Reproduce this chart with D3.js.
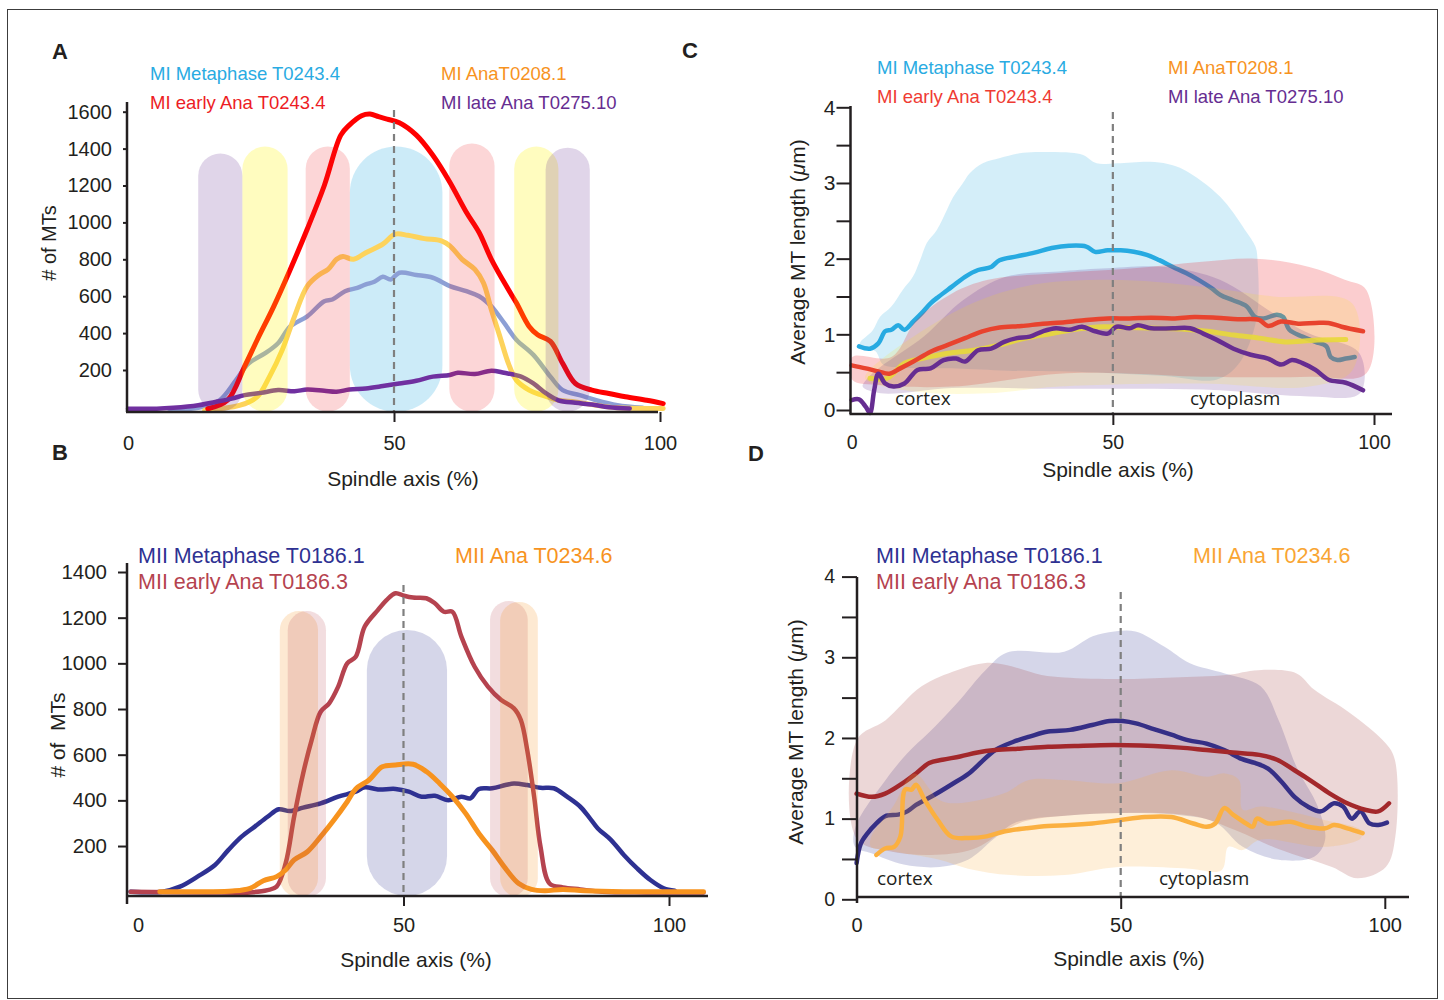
<!DOCTYPE html>
<html>
<head>
<meta charset="utf-8">
<script src="https://cdnjs.cloudflare.com/ajax/libs/d3/7.8.5/d3.min.js"></script>
<style>
  body { margin: 0; background: #fff; }
</style>
</head>
<body>
<svg id="fig" width="1444" height="1000"></svg>
<script>
// ---------------- Panel A : # of MTs along the spindle, meiosis I ----------------
const aMeta  = [[7.7,-10],[13.2,-5],[17.2,36],[20.3,145],[22.7,236],[25.8,291],[28.2,345],[30.5,436],[33.7,491],[36.9,573],[38.4,582],[40.8,627],[43.1,645],[44.7,664],[46.3,678],[47.9,705],[49.4,691],[51,727],[54.2,715],[57.3,700],[60.5,655],[63.6,627],[66,600],[68.3,545],[70.7,455],[73,364],[76.2,282],[79.4,164],[81.7,91],[84.9,64],[88,36],[92,9],[96.7,-5]];
const aEarly = [[15,-10],[18.7,36],[21.9,218],[24.3,364],[27.4,545],[30.5,745],[33.7,964],[36.9,1200],[40,1473],[41.6,1527],[43.9,1578],[45.5,1587],[47.1,1573],[48.7,1560],[51,1540],[54.2,1473],[57.3,1364],[60.5,1218],[63.6,1055],[66,945],[68.3,800],[71.5,636],[73,564],[75.4,436],[77,391],[79.4,355],[81.7,236],[84.1,127],[87.2,91],[90.4,73],[93.5,55],[97.5,36],[100.6,18]];
const aAna   = [[14.4,-18],[17.2,-10],[21.1,9],[24.3,55],[26.6,164],[29,309],[31.3,491],[33.7,655],[36,718],[37.6,745],[39.2,800],[40.4,815],[42.4,800],[44.7,836],[47.9,882],[50.2,936],[52.6,930],[55.7,912],[58.9,900],[60.5,873],[62.8,800],[65.2,745],[66.8,673],[68.3,527],[69.9,382],[71.5,236],[73,145],[75.4,91],[77.8,64],[80.9,36],[84.1,27],[88,9],[92,-5],[100.6,-8]];
const aLate  = [[0,-10],[5.4,-10],[8.5,-5],[13.2,9],[16.4,27],[19.5,45],[21.9,64],[25,76],[28.2,91],[31.3,85],[33.7,94],[36.9,87],[39.2,82],[41.6,94],[44.7,100],[47.9,113],[51,127],[54.2,142],[57.3,164],[60.5,173],[62,185],[65.2,178],[68.3,196],[70.7,185],[73.9,164],[76.2,127],[78.6,73],[80.9,36],[84.1,22],[87.2,13],[90.4,-2],[94.3,-8]];
const aYTicks = [200, 400, 600, 800, 1000, 1200, 1400, 1600];
const aXTicks = [0, 50, 100];
// shaded spindle zones: [from %, to %, top value]; the metaphase zone sits behind the curves
const aBackZones    = [[41.7,59.1,1411]];
const aBackZoneKeys = ["meta"];
const aZones    = [[13.2,21.5,1373],[21.5,30,1411],[33.4,41.7,1411],[60.4,68.9,1428],[72.6,80.9,1411],[78.5,86.8,1405]];
const aZoneKeys = ["late","ana","early","early","ana","late"];
const aLegend   = ["MI Metaphase T0243.4", "MI early Ana T0243.4", "MI AnaT0208.1", "MI late Ana T0275.10"];

// ---------------- Panel B : # of MTs, meiosis II ----------------
const bMeta  = [[-1.4,0],[4.6,0],[7.9,22],[11.2,66],[14.5,117],[17,182],[19.5,241],[22,285],[24.4,328],[26.5,361],[28.6,353],[31.1,368],[34.4,387],[37.7,416],[41,438],[42.7,457],[45.2,448],[48.5,450],[51,438],[53.4,416],[55.9,420],[58.4,401],[60.9,416],[62.6,409],[64.2,450],[66.7,453],[69.2,467],[70.8,474],[73.3,467],[75.8,455],[78.3,453],[80.8,416],[83.3,372],[84.9,328],[86.6,277],[89.1,226],[91.5,161],[94,102],[96.5,51],[99,15],[101.1,4]];
const bEarly = [[-1.4,0],[12.8,-3],[21.1,-3],[24.4,7],[26.1,22],[27.8,124],[29.4,328],[31.1,518],[32.7,664],[34.4,788],[36,825],[37.7,898],[39.4,1000],[41,1029],[42.7,1161],[45.2,1234],[46.8,1277],[48.5,1307],[50.1,1296],[51.8,1288],[54.3,1285],[55.9,1263],[57.6,1226],[59.2,1226],[60.9,1117],[63.4,985],[65.9,898],[68.4,839],[70.8,803],[72.1,752],[73.3,620],[74.6,416],[75.8,197],[77.5,36],[80,19],[83.3,10],[87.4,0],[95.7,-3],[106.5,-3]];
const bAna   = [[4.1,0],[12.8,0],[17.8,3],[21.1,15],[23.6,48],[26.1,66],[27.8,95],[29.4,139],[31.9,175],[34.4,241],[36.9,314],[39.4,394],[41,450],[43.5,489],[46,547],[48.5,555],[51.8,558],[54.3,526],[56.8,474],[59.2,416],[61.7,343],[64.2,255],[66.7,182],[69.2,102],[71.7,36],[74.1,10],[76.6,4],[80,10],[84.1,4],[91.5,0],[106.5,0]];
const bYTicks = [200, 400, 600, 800, 1000, 1200, 1400];
const bXTicks = [0, 50, 100];
const bBackZones    = [[43.1,58.2,1146]];
const bBackZoneKeys = ["meta"];
const bZones    = [[26.7,33.9,1229],[28.2,35.4,1229],[66.3,73.4,1273],[68.2,75.3,1269]];
const bZoneKeys = ["ana","early","early","ana"];
const bLegend   = ["MII Metaphase T0186.1", "MII early Ana T0186.3", "MII Ana T0234.6"];

// ---------------- Panel C : average MT length, meiosis I ----------------
const cMeta  = [[1.4,0.84],[3.5,0.81],[5.1,0.88],[6.4,1.04],[7.6,1.06],[8.9,1.12],[10.1,1.06],[11.8,1.17],[13.4,1.28],[15.1,1.41],[16.7,1.50],[19.2,1.63],[21.7,1.76],[24.2,1.85],[26.7,1.89],[28.3,1.98],[31.6,2.03],[35,2.08],[38.3,2.14],[41.6,2.17],[44.9,2.16],[46.6,2.09],[49,2.11],[51.5,2.11],[54,2.09],[56.5,2.05],[58.9,1.98],[61.5,1.89],[64,1.81],[66.4,1.72],[68.9,1.61],[70.6,1.52],[73,1.45],[75.6,1.37],[77.2,1.23],[78.9,1.21],[81.4,1.26],[82.6,1.23],[83.8,1.06],[86.3,0.97],[88.8,0.90],[90.9,0.84],[91.7,0.70],[93,0.66],[94.6,0.68],[96.3,0.70]];
const cEarly = [[0,0.59],[2.7,0.55],[5.1,0.51],[7.2,0.48],[9.3,0.55],[11.8,0.64],[15.1,0.77],[18.4,0.86],[21.7,0.95],[25,1.04],[28.3,1.09],[32.5,1.11],[36.6,1.14],[40.8,1.16],[44.9,1.19],[49,1.21],[53.2,1.21],[57.3,1.22],[61.5,1.21],[65.6,1.23],[69.8,1.22],[73.9,1.20],[78,1.19],[79.7,1.11],[82.2,1.17],[85.5,1.14],[88.8,1.15],[91.3,1.15],[93.8,1.10],[97.9,1.04]];
const cAna   = [[3.5,0.42],[6.8,0.42],[10.1,0.62],[13.4,0.68],[18.4,0.75],[23.4,0.79],[28.3,0.86],[33.3,0.95],[38.3,1.01],[43.2,1.07],[48.2,1.10],[53.2,1.09],[58.2,1.08],[63.1,1.07],[68.1,1.04],[73.1,0.99],[78,0.95],[83,0.90],[88,0.92],[94.6,0.93]];
const cLate  = [[0,0.13],[1.4,0.14],[2.7,0.04],[3.5,-0.04],[4.3,0.26],[5.1,0.48],[6.4,0.35],[8,0.31],[10.1,0.35],[12.6,0.53],[15.1,0.55],[17.6,0.66],[20,0.68],[21.7,0.64],[24.2,0.79],[26.7,0.81],[29.2,0.90],[31.6,0.95],[34.1,0.97],[36.6,1.04],[39.1,1.08],[41.6,1.06],[44.1,1.10],[46.6,1.04],[49,1.01],[50.7,1.10],[53.2,1.08],[54.8,1.12],[57.3,1.08],[61.5,1.08],[64.8,1.08],[67.3,1.01],[69.8,0.93],[73.1,0.81],[76.4,0.73],[79.7,0.68],[82.2,0.60],[84.3,0.66],[86.3,0.62],[88.8,0.53],[91.3,0.40],[94.6,0.36],[97.9,0.26]];
// spread envelopes: upper edge left->right, lower edge left->right
const cMetaUp   = [[1.6,0.89],[4,1.05],[5.4,1.23],[7.5,1.36],[9.8,1.59],[11.7,1.76],[13.2,2.0],[14.4,2.21],[16.3,2.38],[18.2,2.64],[19.4,2.81],[21.3,3.0],[22.6,3.13],[25.1,3.26],[28.4,3.33],[32.8,3.40],[37.9,3.41],[42,3.40],[44.3,3.37],[46.9,3.26],[50.8,3.26],[57.1,3.28],[60.5,3.25],[63.7,3.17],[70.5,2.82],[75.3,2.38],[77.3,2.16],[77.7,1.98],[77.5,1.2],[74,0.6]];
const cMetaLow  = [[1.5,0.82],[4.5,0.78],[6,0.6],[9,0.56],[14,0.55],[20,0.55],[30,0.52],[45,0.5],[60,0.45],[69.8,0.40]];
const cEarlyUp  = [[0.1,0.70],[7.6,0.70],[12.4,1.19],[19.2,1.54],[26.1,1.72],[39.7,1.81],[53.4,1.87],[67.1,1.96],[77.3,2.0],[87.6,1.89],[94.4,1.72],[98.5,1.59],[98.6,0.49]];
const cEarlyLow = [[0.1,0.40],[5.55,0.33],[19.2,0.31],[39.7,0.48],[53.4,0.48],[67.1,0.44],[87.6,0.44]];
const cLateUp   = [[2.8,0.40],[5.55,0.57],[13.8,0.97],[21.3,1.45],[29.5,1.76],[39.7,1.83],[47.9,1.87],[60.2,1.89],[70.5,1.72],[80.7,1.28],[87.6,1.01],[97.2,0.75],[97.3,0.22]];
const cLateLow  = [[2.1,0.31],[5.55,0.22],[19.2,0.29],[39.7,0.28],[67.1,0.27],[87.6,0.18]];
const cAnaUp    = [[2.8,0.48],[19.2,1.28],[32.9,1.63],[49.3,1.72],[67.1,1.63],[80.7,1.50],[95.8,1.41],[95.9,0.53]];
const cAnaLow   = [[2.7,0.40],[12.4,0.24],[26.1,0.22],[39.7,0.31],[67.1,0.35],[87.6,0.31]];
const cYTicks = [0, 0.5, 1, 1.5, 2, 2.5, 3, 3.5, 4];
const cXTicks = [0, 50, 100];

// ---------------- Panel D : average MT length, meiosis II ----------------
const dMeta  = [[0,0.45],[0.8,0.69],[2.1,0.82],[3.75,0.94],[5.4,1.03],[7.9,1.05],[9.6,1.09],[11.25,1.17],[14.6,1.29],[17.9,1.42],[21.25,1.56],[23.75,1.71],[26.25,1.85],[29.6,1.95],[32.9,2.02],[36.25,2.08],[40.4,2.10],[44.6,2.16],[47.9,2.21],[50.4,2.21],[52.9,2.18],[56.25,2.11],[59.6,2.04],[62.9,1.97],[66.25,1.93],[69.6,1.85],[72.9,1.74],[75.4,1.69],[77.9,1.62],[80.4,1.46],[82.9,1.27],[85.4,1.15],[87.9,1.09],[90.4,1.19],[92.1,1.15],[93.75,1.00],[95.4,1.09],[97.1,0.94],[98.75,0.92],[100.4,0.95]];
const dEarly = [[0,1.31],[2.9,1.27],[5.4,1.31],[8.75,1.44],[11.25,1.56],[13.75,1.69],[16.25,1.73],[19.6,1.77],[22.9,1.82],[26.25,1.85],[31.25,1.87],[36.25,1.89],[41.25,1.90],[46.25,1.91],[51.25,1.91],[56.25,1.90],[61.25,1.88],[66.25,1.85],[71.25,1.82],[76.25,1.79],[79.6,1.73],[82.9,1.60],[86.25,1.46],[89.6,1.31],[92.9,1.19],[96.25,1.11],[98.75,1.09],[100.8,1.19]];
const dAna   = [[3.75,0.55],[5.4,0.63],[7.1,0.65],[8.3,0.78],[9.2,1.36],[10.4,1.36],[11.25,1.42],[12.9,1.23],[15.4,0.98],[17.9,0.78],[21.25,0.76],[24.6,0.78],[27.9,0.84],[32.1,0.88],[36.25,0.91],[40.4,0.92],[44.6,0.94],[49.6,0.98],[54.6,1.02],[59.6,1.02],[63.75,0.94],[66.25,0.90],[67.9,0.94],[69.6,1.13],[71.25,1.05],[73.75,0.94],[75,0.90],[75.8,1.00],[77.9,0.94],[82.1,0.96],[85.4,0.90],[88.75,0.88],[90.4,0.92],[92.9,0.88],[95.8,0.82]];
const dMetaUp   = [[-0.2,0.90],[5.5,1.48],[9.6,1.81],[13.6,2.06],[19,2.43],[24.4,2.84],[28.5,3.06],[39.3,3.07],[44.7,3.26],[48.8,3.32],[52.8,3.32],[58.3,3.13],[63,2.93],[69.7,2.80],[76.5,2.64],[79.9,2.22],[83.3,1.64],[87.3,1.15],[88.7,0.74]];
const dMetaLow  = [[-0.3,0.65],[2.8,0.57],[8.9,0.43],[15.7,0.40],[21.1,0.49],[26,0.75],[30,0.95],[40,1.04],[50,1.07],[60,1.05],[68,0.95],[73.1,0.65],[79.9,0.49],[86.7,0.53]];
const dEarlyUp  = [[0.1,1.98],[5.5,2.22],[12.3,2.64],[19,2.84],[24.4,2.93],[28.5,2.9],[35,2.78],[39.3,2.75],[50,2.73],[60,2.75],[70,2.78],[76,2.84],[83.3,2.80],[86.6,2.60],[93.4,2.31],[100.2,1.93],[101.9,1.73],[102,0.78]];
const dEarlyLow = [[0,0.75],[6,0.6],[14,0.55],[22,0.62],[28,0.85],[32,0.97],[40,1.04],[50,1.07],[60,1.06],[66,1.0],[72,0.85],[80,0.62],[90,0.40],[94.8,0.26],[100.2,0.40]];
const dAnaUp    = [[2.8,0.78],[6.9,1.15],[10.9,1.56],[15.7,1.23],[19,1.19],[27.8,1.31],[32.6,1.48],[39.3,1.48],[49.5,1.44],[59.6,1.60],[66.4,1.52],[69.7,1.56],[72.4,1.48],[73.1,1.11],[76.5,1.15],[83.3,1.07],[88.7,0.98],[95.4,0.86]];
const dAnaLow   = [[2.7,0.65],[5.5,0.61],[8.9,0.57],[15.7,0.49],[21.1,0.38],[29.2,0.30],[39.3,0.30],[49.5,0.40],[63,0.38],[69.1,0.36],[70.4,0.65],[73.1,0.61],[76.5,0.74],[88.7,0.65],[95.5,0.76]];
const dYTicks = [0, 0.5, 1, 1.5, 2, 2.5, 3, 3.5, 4];
const dXTicks = [0, 50, 100];

// ---------------- styles ----------------
const ink = "#231f20";
const sans = '"Liberation Sans", Arial, Helvetica, sans-serif';
const humanist = '"Open Sans", "DejaVu Sans", sans-serif';
const midColor = "#7f7f7f";

const svg = d3.select("#fig");
svg.append("rect").attr("x", 7.5).attr("y", 9.5).attr("width", 1430).attr("height", 989)
  .attr("fill", "none").attr("stroke", "#3c3c3c").attr("stroke-width", 1);

function drawLine(g, xs, ys, pts, color, width, opacity) {
  g.append("path").datum(pts)
    .attr("d", d3.line().x(d => xs(d[0])).y(d => ys(d[1])).curve(d3.curveCatmullRom.alpha(0.5)))
    .attr("fill", "none").attr("stroke", color).attr("stroke-width", width)
    .attr("stroke-linejoin", "round").attr("stroke-linecap", "round")
    .attr("opacity", opacity == null ? 1 : opacity);
}

function drawBand(g, xs, ys, upper, lower, color, alpha) {
  const ring = upper.concat(lower.slice().reverse());
  g.append("path").datum(ring)
    .attr("d", d3.line().x(d => xs(d[0])).y(d => ys(d[1])).curve(d3.curveCatmullRomClosed.alpha(0.5)))
    .attr("fill", color).attr("fill-opacity", alpha).attr("stroke", "none");
}

function drawZones(g, xs, ys, zones, keys, fills, alphas, bottom) {
  g.selectAll(null).data(zones).join("rect")
    .attr("x", d => xs(d[0]))
    .attr("width", d => xs(d[1]) - xs(d[0]))
    .attr("y", d => ys(d[2]))
    .attr("height", d => bottom - ys(d[2]))
    .attr("rx", d => (xs(d[1]) - xs(d[0])) / 2)
    .attr("fill", (d, i) => fills[keys[i]])
    .attr("fill-opacity", (d, i) => alphas[keys[i]]);
}

function yAxis(g, ys, x, vals, len, pad, size, fmt) {
  const ax = g.append("g").attr("transform", `translate(${x},0)`)
    .call(d3.axisLeft(ys).tickValues(vals).tickSize(len).tickPadding(pad).tickFormat(fmt || d3.format("d")));
  ax.select(".domain").remove();
  ax.selectAll("line").attr("stroke", ink).attr("stroke-width", 2);
  ax.selectAll("text").attr("font-family", sans).attr("font-size", size).attr("fill", ink);
}

function xAxis(g, xs, y, vals, len, textY, size) {
  const ax = g.append("g").attr("transform", `translate(0,${y})`)
    .call(d3.axisBottom(xs).tickValues(vals).tickSize(len).tickFormat(d3.format("d")));
  ax.select(".domain").remove();
  ax.selectAll("line").attr("stroke", ink).attr("stroke-width", 2);
  ax.selectAll("text").attr("y", textY).attr("font-family", sans).attr("font-size", size).attr("fill", ink);
  ax.selectAll(".tick").filter(d => d === 0).select("line").remove();
}

function frame(g, x0, yTop, yBottom, xAxisY, xRight) {
  g.append("line").attr("x1", x0).attr("x2", x0).attr("y1", yTop).attr("y2", yBottom)
    .attr("stroke", ink).attr("stroke-width", 2.5);
  g.append("line").attr("x1", x0 - 1).attr("x2", xRight).attr("y1", xAxisY).attr("y2", xAxisY)
    .attr("stroke", ink).attr("stroke-width", 2.5);
}

function midLine(g, x, yTop, yBottom) {
  g.append("line").attr("x1", x).attr("x2", x).attr("y1", yTop).attr("y2", yBottom)
    .attr("stroke", midColor).attr("stroke-width", 2.2).attr("stroke-dasharray", "7,5");
}

function label(g, txt, x, y, size, color, opts) {
  const t = g.append("text").attr("x", x).attr("y", y).text(txt)
    .attr("font-family", (opts && opts.family) || sans).attr("font-size", size).attr("fill", color)
    .attr("text-anchor", (opts && opts.anchor) || "start");
  if (opts && opts.bold) t.attr("font-weight", "bold");
  if (opts && opts.rotate) t.attr("transform", `rotate(-90,${x},${y})`);
  if (opts && opts.pre) t.attr("xml:space", "preserve").style("white-space", "pre");
  return t;
}

function lengthTitle(g, x, y) {
  const t = g.append("text").attr("x", x).attr("y", y)
    .attr("font-family", sans).attr("font-size", 21).attr("fill", ink)
    .attr("text-anchor", "middle").attr("transform", `rotate(-90,${x},${y})`);
  t.append("tspan").text("Average MT length (");
  t.append("tspan").attr("font-style", "italic").text("\u03bc");
  t.append("tspan").text("m)");
}

// ============ Panel A ============
{
  const g = svg.append("g");
  const xs = d3.scaleLinear().domain([0, 100]).range([128, 660]);
  const ys = d3.scaleLinear().domain([0, 1600]).range([406.9, 111.7]);
  const lineCol = { meta: "#8c9fd5", early: "#ff0000", ana: "#fdd35c", late: "#7030a0" };
  const zoneCol = { meta: "#29abe2", early: "#ed1c24", ana: "#fff200", late: "#662d91" };
  const zoneA   = { meta: 0.24, early: 0.18, ana: 0.25, late: 0.2 };

  drawZones(g, xs, ys, aBackZones, aBackZoneKeys, zoneCol, zoneA, 411.7);
  drawLine(g, xs, ys, aMeta, lineCol.meta, 4.5);
  drawLine(g, xs, ys, aAna, lineCol.ana, 5);
  drawLine(g, xs, ys, aEarly, lineCol.early, 5);
  drawLine(g, xs, ys, aLate, lineCol.late, 4.5);
  drawZones(g, xs, ys, aZones, aZoneKeys, zoneCol, zoneA, 411.7);
  midLine(g, xs(50), 110, 412);

  frame(g, 127, 102, 412, 412, 658);
  yAxis(g, ys, 127, aYTicks, 4, 11, 20);
  xAxis(g, xs, 412, aXTicks, 10, 24, 20);

  const legCol = ["#29abe2", "#ed1c24", "#f7931e", "#662d91"];
  label(g, aLegend[0], 150, 80, 18.5, legCol[0]);
  label(g, aLegend[1], 150, 109, 18.5, legCol[1]);
  label(g, aLegend[2], 441, 80, 18.5, legCol[2]);
  label(g, aLegend[3], 441, 109, 18.5, legCol[3]);

  label(g, "A", 52, 59, 22, ink, { bold: true });
  label(g, "# of MTs", 56, 243, 20, ink, { anchor: "middle", rotate: true });
  label(g, "Spindle axis (%)", 403, 486, 21, ink, { anchor: "middle" });
}

// ============ Panel B ============
{
  const g = svg.append("g");
  const xs = d3.scaleLinear().domain([0, 100]).range([138, 669]);
  const ys = d3.scaleLinear().domain([0, 1400]).range([891.7, 572]);
  const lineCol = { meta: "#2e3192", early: "#b5434f", ana: "#f7931e" };
  const zoneCol = { meta: "#2e3192", early: "#b5434f", ana: "#f7931e" };
  const zoneA   = { meta: 0.2, early: 0.18, ana: 0.2 };

  drawZones(g, xs, ys, bBackZones, bBackZoneKeys, zoneCol, zoneA, 896);
  drawLine(g, xs, ys, bMeta, lineCol.meta, 4.5);
  drawLine(g, xs, ys, bEarly, lineCol.early, 4.5);
  drawLine(g, xs, ys, bAna, lineCol.ana, 5);
  drawZones(g, xs, ys, bZones, bZoneKeys, zoneCol, zoneA, 897);
  midLine(g, xs(50), 585, 896);

  frame(g, 127, 563, 904, 896, 708);
  yAxis(g, ys, 127, bYTicks, 9, 11, 20.5);
  xAxis(g, xs, 896, bXTicks, 10, 22, 20);

  label(g, bLegend[0], 138, 563, 21.5, "#2e3192");
  label(g, bLegend[1], 138, 589, 21.5, "#b5434f");
  label(g, bLegend[2], 455, 563, 21.5, "#f7931e");

  label(g, "B", 52, 460, 22, ink, { bold: true });
  label(g, "# of  MTs", 65, 735, 21, ink, { anchor: "middle", rotate: true, pre: true });
  label(g, "Spindle axis (%)", 416, 967, 21, ink, { anchor: "middle" });
}

// ============ Panel C ============
{
  const g = svg.append("g");
  const xs = d3.scaleLinear().domain([0, 100]).range([851.7, 1374]);
  const ys = d3.scaleLinear().domain([0, 4]).range([410, 107.3]);

  drawBand(g, xs, ys, cMetaUp, cMetaLow, "#29abe2", 0.2);
  drawLine(g, xs, ys, cMeta, "#27aae1", 4.5);
  drawBand(g, xs, ys, cEarlyUp, cEarlyLow, "#ed1c24", 0.22);
  drawBand(g, xs, ys, cLateUp, cLateLow, "#662d91", 0.2);
  drawBand(g, xs, ys, cAnaUp, cAnaLow, "#ffe600", 0.14);
  drawLine(g, xs, ys, cAna, "#e8d83a", 5, 0.9);
  drawLine(g, xs, ys, cEarly, "#e8432e", 4.5);
  drawLine(g, xs, ys, cLate, "#662d91", 4.5);
  midLine(g, xs(50), 112, 414);

  frame(g, 850.5, 106, 414, 414, 1392);
  yAxis(g, ys, 850.5, cYTicks, 14, 1, 21, d => Number.isInteger(d) ? d : "");
  xAxis(g, xs, 414, cXTicks, 11, 21, 19.5);

  label(g, "MI Metaphase T0243.4", 877, 74, 18.5, "#29abe2");
  label(g, "MI early Ana T0243.4", 877, 103, 18.5, "#ef3b33");
  label(g, "MI AnaT0208.1", 1168, 74, 18.5, "#f7931e");
  label(g, "MI late Ana T0275.10", 1168, 103, 18.5, "#662d91");

  label(g, "cortex", 895, 405, 19, ink, { family: humanist });
  label(g, "cytoplasm", 1190, 405, 19, ink, { family: humanist });

  label(g, "C", 682, 58, 22, ink, { bold: true });
  lengthTitle(g, 805, 252);
  label(g, "Spindle axis (%)", 1118, 477, 21, ink, { anchor: "middle" });
}

// ============ Panel D ============
{
  const g = svg.append("g");
  const xs = d3.scaleLinear().domain([0, 100]).range([856.6, 1384.8]);
  const ys = d3.scaleLinear().domain([0, 4]).range([899.3, 576.6]);

  drawBand(g, xs, ys, dMetaUp, dMetaLow, "#2e3192", 0.2);
  drawBand(g, xs, ys, dEarlyUp, dEarlyLow, "#a8484a", 0.22);
  drawLine(g, xs, ys, dMeta, "#352f86", 4.5);
  drawLine(g, xs, ys, dEarly, "#a3282b", 4.5);
  drawBand(g, xs, ys, dAnaUp, dAnaLow, "#fbb040", 0.2);
  drawLine(g, xs, ys, dAna, "#fbb040", 4.5);
  midLine(g, xs(50), 592, 897);

  frame(g, 857, 577, 903, 897, 1409);
  yAxis(g, ys, 857, dYTicks, 15, 7, 19.5, d => Number.isInteger(d) ? d : "");
  xAxis(g, xs, 897, dXTicks, 12, 21, 20);

  label(g, "MII Metaphase T0186.1", 876, 563, 21.5, "#2e3192");
  label(g, "MII early Ana T0186.3", 876, 589, 21.5, "#b5434f");
  label(g, "MII Ana T0234.6", 1193, 563, 21.5, "#f9a533");

  label(g, "cortex", 877, 885, 19, ink, { family: humanist });
  label(g, "cytoplasm", 1159, 885, 19, ink, { family: humanist });

  label(g, "D", 748, 461, 22, ink, { bold: true });
  lengthTitle(g, 803, 732);
  label(g, "Spindle axis (%)", 1129, 966, 21, ink, { anchor: "middle" });
}
</script>
</body>
</html>
